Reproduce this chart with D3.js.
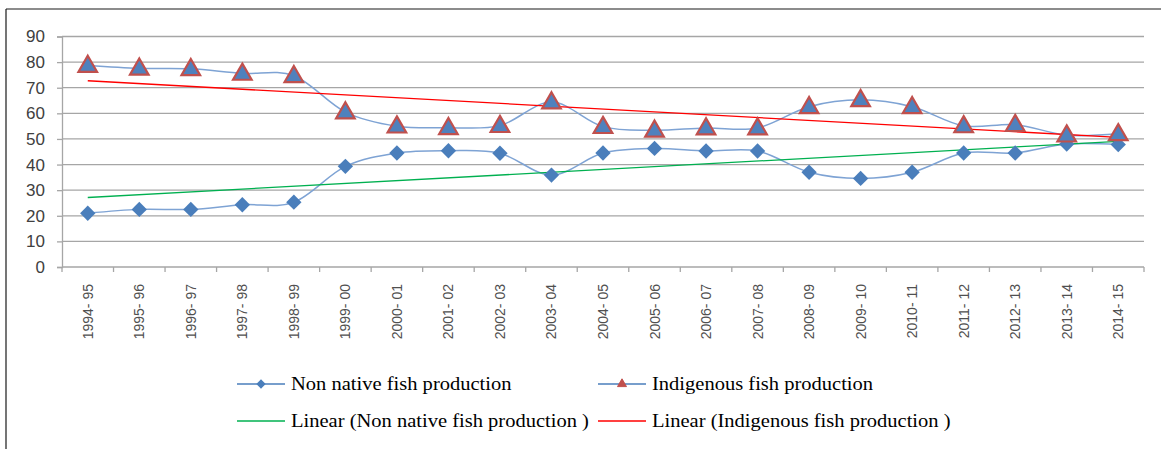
<!DOCTYPE html>
<html>
<head>
<meta charset="utf-8">
<script src="https://cdn.jsdelivr.net/npm/d3@7"></script>
<style>
  body { margin: 0; background: #fff; }
  svg { display: block; }
</style>
</head>
<body>
<svg id="chart" width="1161" height="449"></svg>
<script>
// data
var years = ["1994- 95", "1995- 96", "1996- 97", "1997- 98", "1998- 99", "1999- 00", "2000- 01",
    "2001- 02", "2002- 03", "2003- 04", "2004- 05", "2005- 06", "2006- 07", "2007- 08",
    "2008- 09", "2009- 10", "2010- 11", "2011- 12", "2012- 13", "2013- 14", "2014- 15"];
var nonNative = [21, 22.5, 22.5, 24.3, 25.3, 39.3, 44.5, 45.4, 44.4, 35.9, 44.5, 46.3, 45.3, 45.3,
    37, 34.6, 37, 44.5, 44.5, 48, 47.8];
var indigenous = [78.7, 77.6, 77.4, 75.6, 74.7, 60.5, 55, 54.4, 55.2, 64.4, 54.8, 53.4, 54.3, 54.3,
    62.6, 65.3, 62.6, 55.1, 55.6, 51.5, 52];
var yTicks = [0, 10, 20, 30, 40, 50, 60, 70, 80, 90];
var legendNames = ["Non native fish production", "Indigenous fish production",
    "Linear (Non native fish production )", "Linear (Indigenous fish production )"];

var svg = d3.select("#chart");
var plotLeft = 62, plotRight = 1144, plotTop = 36.5, plotBottom = 267;

// outer frame (only top and left edge visible)
svg.append("line").attr("x1", 6).attr("y1", 9).attr("x2", 1161).attr("y2", 9)
    .attr("stroke", "#1a1a1a").attr("stroke-width", 1.2);
svg.append("line").attr("x1", 6).attr("y1", 9).attr("x2", 6).attr("y2", 449)
    .attr("stroke", "#1a1a1a").attr("stroke-width", 1.2);

var x = d3.scaleBand().domain(years).range([plotLeft, plotRight]);
var y = d3.scaleLinear().domain([0, 90]).range([plotBottom, plotTop]);
var cx = function (d, i) { return x(years[i]) + x.bandwidth() / 2; };

// gridlines
svg.append("g").selectAll("line").data(yTicks.slice(1)).enter()
    .append("line")
    .attr("x1", plotLeft).attr("x2", plotRight)
    .attr("y1", function (d) { return y(d); })
    .attr("y2", function (d) { return y(d); })
    .attr("stroke", "#a6a6a6").attr("stroke-width", 1.3);

// y axis
var yAxis = svg.append("g").attr("transform", "translate(" + plotLeft + ",0)")
    .call(d3.axisLeft(y).tickValues(yTicks).tickSize(5).tickPadding(12));
yAxis.select(".domain").attr("stroke", "#a6a6a6").attr("stroke-width", 1.3);
yAxis.selectAll(".tick line").attr("stroke", "#a6a6a6").attr("stroke-width", 1.3);
yAxis.selectAll("text").attr("font-family", "'Liberation Sans', Arial, sans-serif")
    .attr("font-size", 17).attr("fill", "#404040");

// x axis: ticks between categories
var xg = svg.append("g");
xg.append("line").attr("x1", plotLeft).attr("x2", plotRight).attr("y1", plotBottom).attr("y2", plotBottom)
    .attr("stroke", "#a6a6a6").attr("stroke-width", 1.3);
xg.selectAll(".xt").data(d3.range(years.length + 1)).enter()
    .append("line")
    .attr("x1", function (d) { return plotLeft + d * x.step(); })
    .attr("x2", function (d) { return plotLeft + d * x.step(); })
    .attr("y1", plotBottom).attr("y2", plotBottom + 5)
    .attr("stroke", "#a6a6a6").attr("stroke-width", 1.3);
xg.selectAll("text").data(years).enter()
    .append("text")
    .attr("transform", function (d) {
        return "translate(" + (x(d) + x.bandwidth() / 2 + 5) + "," + (plotBottom + 17) + ") rotate(-90)";
    })
    .attr("text-anchor", "end")
    .attr("font-family", "'Liberation Sans', Arial, sans-serif")
    .attr("font-size", 14)
    .attr("fill", "#505050")
    .text(function (d) { return d; });

// linear trend lines (least squares, like the spreadsheet trendline)
function trend(vals) {
    var n = vals.length, mx = (n - 1) / 2, my = d3.mean(vals);
    var sxy = 0, sxx = 0;
    vals.forEach(function (v, i) { sxy += (i - mx) * (v - my); sxx += (i - mx) * (i - mx); });
    var b = sxy / sxx, a = my - b * mx;
    return [a, a + b * (n - 1)];
}
var trendN = trend(nonNative), trendI = trend(indigenous);
var lastX = x(years[years.length - 1]) + x.bandwidth() / 2, firstX = x(years[0]) + x.bandwidth() / 2;

// smoothed series lines
var line = d3.line().x(cx).y(function (d) { return y(d); }).curve(d3.curveCatmullRom.alpha(0));
[nonNative, indigenous].forEach(function (s) {
    svg.append("path").attr("d", line(s)).attr("fill", "none")
        .attr("stroke", "#7ea3d4").attr("stroke-width", 1.5);
});

svg.append("line").attr("x1", firstX).attr("x2", lastX)
    .attr("y1", y(trendN[0])).attr("y2", y(trendN[1]))
    .attr("stroke", "#00b050").attr("stroke-width", 1.3);
svg.append("line").attr("x1", firstX).attr("x2", lastX)
    .attr("y1", y(trendI[0])).attr("y2", y(trendI[1]))
    .attr("stroke", "#ff0000").attr("stroke-width", 1.3);

// markers
var diamond = d3.symbol().type(d3.symbolDiamond2).size(150);
svg.append("g").selectAll("path").data(nonNative).enter()
    .append("path")
    .attr("d", diamond)
    .attr("transform", function (d, i) { return "translate(" + cx(d, i) + "," + y(d) + ")"; })
    .attr("fill", "#4a7ebb");

var tri = d3.symbol().type(d3.symbolTriangle).size(150);
svg.append("g").selectAll("path").data(indigenous).enter()
    .append("path")
    .attr("d", tri)
    .attr("transform", function (d, i) { return "translate(" + cx(d, i) + "," + (y(d) + 1) + ")"; })
    .attr("fill", "#4f81bd").attr("stroke", "#c0504d").attr("stroke-width", 2.2)
    .attr("stroke-linejoin", "miter");

// legend
var legendItems = [
    { x: 237, y: 384, color: "#4a7ebb", marker: "diamond" },
    { x: 598, y: 384, color: "#4a7ebb", marker: "triangle" },
    { x: 237, y: 421, color: "#00b050", marker: null },
    { x: 598, y: 421, color: "#ff0000", marker: null }
];
svg.append("g").selectAll("g").data(legendItems).enter()
    .append("g")
    .attr("transform", function (d) { return "translate(" + d.x + "," + d.y + ")"; })
    .each(function (d, i) {
        var g = d3.select(this);
        g.append("line").attr("x1", 0).attr("x2", 48).attr("y1", 0).attr("y2", 0)
            .attr("stroke", d.color).attr("stroke-width", 1.5);
        if (d.marker == "diamond") {
            g.append("path").attr("d", d3.symbol().type(d3.symbolDiamond2).size(55))
                .attr("transform", "translate(24,0)").attr("fill", "#4a7ebb");
        } else if (d.marker == "triangle") {
            g.append("path").attr("d", d3.symbol().type(d3.symbolTriangle).size(35))
                .attr("transform", "translate(24,0)").attr("fill", "#c0504d")
                .attr("stroke", "#c0504d").attr("stroke-width", 1);
        }
        g.append("text")
            .attr("transform", "translate(54,6) scale(1.14,1)")
            .attr("font-family", "'Liberation Serif', 'Times New Roman', serif")
            .attr("font-size", 18).attr("fill", "#000")
            .text(legendNames[i]);
    });
</script>
</body>
</html>
